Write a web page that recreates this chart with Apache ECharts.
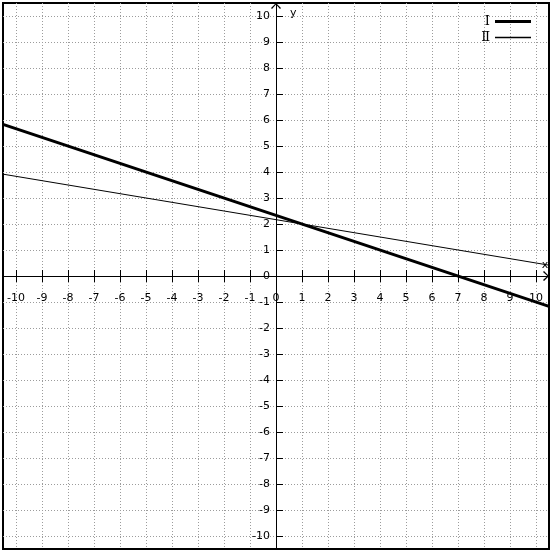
<!DOCTYPE html>
<html>
<head>
<meta charset="utf-8">
<script src="https://cdn.jsdelivr.net/npm/echarts@6/dist/echarts.min.js"></script>
<style>
html,body{margin:0;padding:0;background:#fff;}
#c{width:553px;height:553px;}
</style>
</head>
<body>
<div id="c"></div>
<script>
// axis range and tick values
var axisMin = -10.5;
var axisMax = 10.5;
var labelMin = -10;
var labelMax = 10;
var tickValues = [-10,-9,-8,-7,-6,-5,-4,-3,-2,-1,0,1,2,3,4,5,6,7,8,9,10];
// series
var seriesNames = ['Ⅰ', 'Ⅱ'];
var lineI = [[-10.5, 5.833], [10.5, -1.167]];
var lineII = [[-10.5, 3.917], [10.5, 0.417]];

var labelFont = {fontFamily: 'DejaVu Sans', fontSize: 11, color: '#000'};
var gridLine = {show: true, lineStyle: {color: '#9c9c9c', type: [1, 2], width: 1}};
var chevron = 'path://M0,5 L5,0 L10,5 L9,6 L5,1.6 L1,6 Z';

var chart = echarts.init(document.getElementById('c'), null, {renderer: 'canvas'});
chart.setOption({
  animation: false,
  backgroundColor: '#fff',
  grid: [
    {left: 3, top: 3, width: 546, height: 546, show: true, borderColor: '#000', borderWidth: 2,
     backgroundColor: 'transparent', containLabel: false, outerBoundsMode: 'none'},
    {left: 16, top: 16, width: 520, height: 520, show: false, containLabel: false, outerBoundsMode: 'none'}
  ],
  legend: {
    right: 17, top: 10, orient: 'vertical', align: 'right',
    itemWidth: 36, itemHeight: 14, itemGap: 3,
    textStyle: {fontFamily: 'DejaVu Serif', fontSize: 13, color: '#000'},
    data: [
      {name: seriesNames[0], icon: 'path://M0,0H36V3H0Z'},
      {name: seriesNames[1], icon: 'path://M0,0H36V1.3H0Z'}
    ]
  },
  xAxis: [{
    type: 'value', min: axisMin, max: axisMax, gridIndex: 0,
    axisLine: {show: true, onZero: true, symbol: ['none', chevron], symbolSize: [10, 6], symbolOffset: [0, -3],
               lineStyle: {color: '#000', width: 1}},
    axisTick: {show: true, inside: false, length: 6, customValues: tickValues, lineStyle: {color: '#000'}},
    axisLabel: {show: false},
    splitLine: gridLine,
    name: 'x', nameLocation: 'end', nameGap: -4,
    nameTextStyle: {fontFamily: 'DejaVu Sans', fontSize: 11, color: '#000', align: 'center', verticalAlign: 'bottom', padding: [0, 0, 5, 0]}
  }, {
    type: 'value', min: axisMin, max: axisMax, gridIndex: 0, position: 'bottom', offset: -273,
    axisLine: {show: false, onZero: false},
    axisTick: {show: true, inside: true, length: 6, customValues: tickValues, lineStyle: {color: '#000'}},
    axisLabel: {show: false},
    splitLine: {show: false}
  }, {
    type: 'value', min: labelMin, max: labelMax, interval: 1, gridIndex: 1, position: 'bottom', offset: -260,
    axisLine: {show: false, onZero: false},
    axisTick: {show: false},
    axisLabel: {show: true, margin: 17, fontFamily: labelFont.fontFamily, fontSize: labelFont.fontSize, color: labelFont.color, showMinLabel: true, showMaxLabel: true},
    splitLine: {show: false}
  }],
  yAxis: [{
    type: 'value', min: axisMin, max: axisMax, gridIndex: 0,
    axisLine: {show: true, onZero: true, symbol: ['none', chevron], symbolSize: [10, 6], symbolOffset: [0, -3],
               lineStyle: {color: '#000', width: 1}},
    axisTick: {show: true, inside: true, length: 7, customValues: tickValues, lineStyle: {color: '#000'}},
    axisLabel: {show: false},
    splitLine: gridLine,
    name: 'y', nameLocation: 'end', nameGap: -10,
    nameTextStyle: {fontFamily: 'DejaVu Sans', fontSize: 11, color: '#000', align: 'left', verticalAlign: 'middle', padding: [0, 0, 0, 14]}
  }, {
    type: 'value', min: labelMin, max: labelMax, interval: 1, gridIndex: 1, position: 'left', offset: -260,
    axisLine: {show: false, onZero: false},
    axisTick: {show: false},
    axisLabel: {show: true, margin: 6, fontFamily: labelFont.fontFamily, fontSize: labelFont.fontSize, color: labelFont.color, showMinLabel: true, showMaxLabel: true},
    splitLine: {show: false}
  }],
  series: [{
    name: seriesNames[0], type: 'line', data: lineI, symbol: 'none', silent: true,
    xAxisIndex: 0, yAxisIndex: 0,
    lineStyle: {color: '#000', width: 3}, itemStyle: {color: '#000'}, z: 5
  }, {
    name: seriesNames[1], type: 'line', data: lineII, symbol: 'none', silent: true,
    xAxisIndex: 0, yAxisIndex: 0,
    lineStyle: {color: '#000', width: 1}, itemStyle: {color: '#000'}, z: 5
  }]
});
</script>
</body>
</html>
